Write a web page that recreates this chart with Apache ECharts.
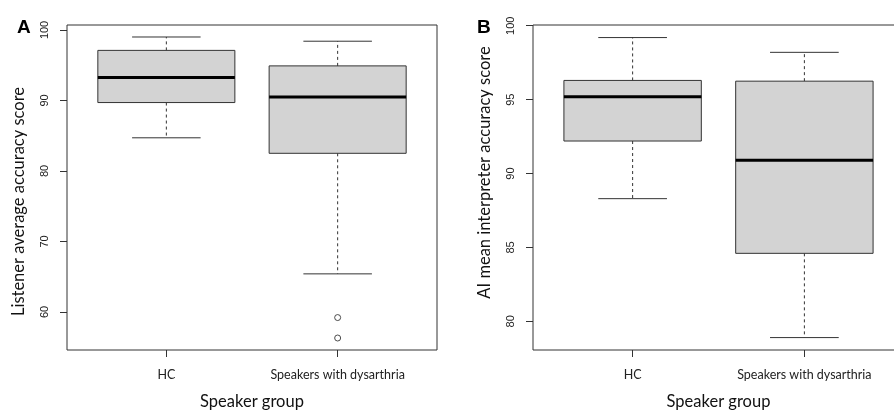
<!DOCTYPE html>
<html>
<head>
<meta charset="utf-8">
<script src="https://cdn.jsdelivr.net/npm/echarts@6/dist/echarts.min.js"></script>
<style>
  html, body { margin: 0; padding: 0; background: #fff; }
  #chart { width: 894px; height: 410px; }
</style>
</head>
<body>
<div id="chart"></div>
<script>
// groups on the x axis (positions 1 and 2)
const groups = ['HC', 'Speakers with dysarthria'];
// [lower whisker, Q1, median, Q3, upper whisker]
const listenerStats = [
  [84.7, 89.7, 93.25, 97.1, 99.0],
  [65.4, 82.5, 90.5, 94.9, 98.4]
];
const listenerOutliers = [[2, 59.2], [2, 56.3]];
const aiStats = [
  [88.3, 92.2, 95.2, 96.3, 99.2],
  [78.9, 84.6, 90.9, 96.25, 98.2]
];

const tickFont = {fontFamily: 'Liberation Sans', fontSize: 11, color: '#222'};
const nameFont = {fontFamily: 'Lato', fontSize: 16.5, color: '#111'};

// draws one R-style box: dashed whiskers, staples, thick median
function renderBox(params, api) {
  const x = api.value(0);
  const hw = api.size([0.4, 0])[0];
  const cx = api.coord([x, 0])[0];
  const y = i => api.coord([x, api.value(i)])[1];
  const yMin = y(1), yQ1 = y(2), yMed = y(3), yQ3 = y(4), yMax = y(5);
  const line = (x1, y1, x2, y2, st) => ({
    type: 'line',
    shape: {x1: x1, y1: y1, x2: x2, y2: y2},
    style: Object.assign({stroke: '#333', lineWidth: 1}, st)
  });
  return {
    type: 'group',
    children: [
      line(cx, yQ3, cx, yMax, {lineDash: [3, 3]}),
      line(cx, yQ1, cx, yMin, {lineDash: [3, 3]}),
      line(cx - hw / 2, yMax, cx + hw / 2, yMax, {}),
      line(cx - hw / 2, yMin, cx + hw / 2, yMin, {}),
      {
        type: 'rect',
        shape: {x: cx - hw, y: yQ3, width: 2 * hw, height: yQ1 - yQ3},
        style: {fill: '#d3d3d3', stroke: '#333', lineWidth: 1}
      },
      line(cx - hw, yMed, cx + hw, yMed, {stroke: '#000', lineWidth: 3})
    ]
  };
}

function xAxisFor(gi) {
  return {
    gridIndex: gi,
    type: 'value',
    min: 0.42,
    max: 2.58,
    name: 'Speaker group',
    nameLocation: 'middle',
    nameGap: 43,
    nameTextStyle: nameFont,
    splitLine: {show: false},
    axisLine: {show: false},
    axisTick: {show: true, customValues: [1, 2], length: 7, lineStyle: {color: '#333'}},
    axisLabel: Object.assign({
      customValues: [1, 2],
      margin: 18,
      formatter: v => groups[Math.round(v) - 1] || ''
    }, tickFont, {fontFamily: 'Lato', fontSize: 12.5})
  };
}

// y ticks come from the nice interval (10 on the left, 5 on the right)
function yAxisFor(gi, min, max, name, namePad) {
  return {
    gridIndex: gi,
    type: 'value',
    min: min,
    max: max,
    name: name,
    nameLocation: 'middle',
    nameGap: 40,
    nameTextStyle: Object.assign({padding: namePad}, nameFont),
    splitLine: {show: false},
    axisLine: {show: false},
    axisTick: {show: true, length: 7, lineStyle: {color: '#333'}},
    axisLabel: Object.assign({rotate: 90, margin: 17, showMinLabel: false, showMaxLabel: false}, tickFont)
  };
}

function toRows(stats) {
  return stats.map((s, i) => [i + 1].concat(s));
}

const chart = echarts.init(document.getElementById('chart'));
chart.setOption({
  animation: false,
  backgroundColor: '#fff',
  title: [
    {text: 'A', left: 12, top: 13, textStyle: {fontFamily: 'Liberation Sans', fontSize: 19, fontWeight: 'bold', color: '#000'}},
    {text: 'B', left: 472, top: 13, textStyle: {fontFamily: 'Liberation Sans', fontSize: 19, fontWeight: 'bold', color: '#000'}}
  ],
  grid: [
    {left: 67, top: 25, width: 370, height: 325, outerBoundsMode: 'none', show: true, borderColor: '#333', borderWidth: 1},
    {left: 533, top: 25, width: 371, height: 325, outerBoundsMode: 'none', show: true, borderColor: '#333', borderWidth: 1}
  ],
  xAxis: [xAxisFor(0), xAxisFor(1)],
  yAxis: [
    yAxisFor(0, 54.6, 100.7, 'Listener average accuracy score', [0, 28, 0, 0]),
    yAxisFor(1, 78.06, 100.05, 'AI mean interpreter accuracy score', [0, 0, 0, 30])
  ],
  series: [
    {
      type: 'custom',
      xAxisIndex: 0,
      yAxisIndex: 0,
      renderItem: renderBox,
      encode: {x: 0, y: [1, 2, 3, 4, 5]},
      data: toRows(listenerStats)
    },
    {
      type: 'scatter',
      xAxisIndex: 0,
      yAxisIndex: 0,
      symbol: 'circle',
      symbolSize: 6,
      itemStyle: {color: '#fff', borderColor: '#222', borderWidth: 1},
      data: listenerOutliers
    },
    {
      type: 'custom',
      xAxisIndex: 1,
      yAxisIndex: 1,
      renderItem: renderBox,
      encode: {x: 0, y: [1, 2, 3, 4, 5]},
      data: toRows(aiStats)
    }
  ]
});
</script>
</body>
</html>
